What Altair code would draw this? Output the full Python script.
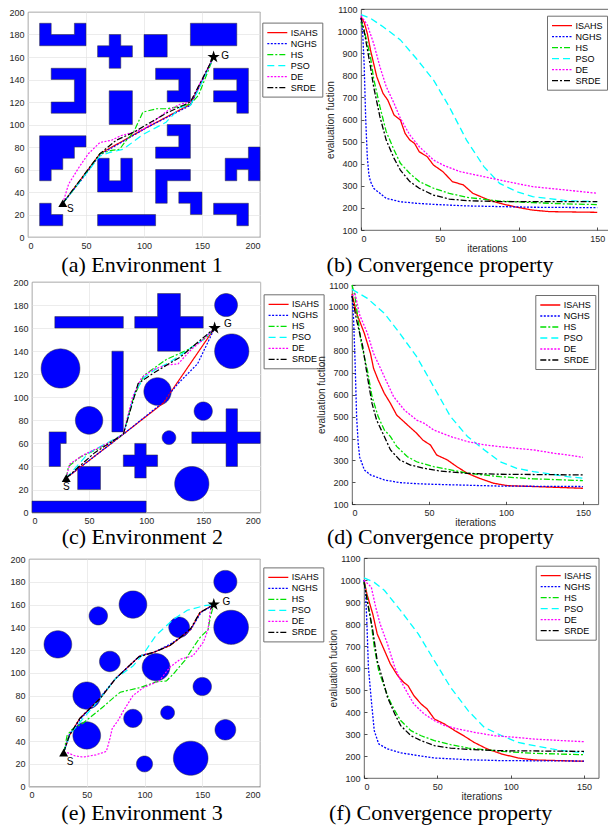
import altair as alt
import numpy as np
import pandas as pd

METHODS = ["ISAHS", "NGHS", "HS", "PSO", "DE", "SRDE"]
COLORS = ["#FF0000", "#0000FF", "#00E000", "#00FFFF", "#FF00FF", "#000000"]
DASHES = [[1, 0], [2, 1.5], [6, 2, 2, 2], [7, 4], [2, 1.5], [6, 2, 2, 2]]
STAR_SHAPE = ("M0,-1L0.2245,-0.309L0.951,-0.309L0.363,0.118L0.588,0.809L0,0.382"
              "L-0.588,0.809L-0.363,0.118L-0.951,-0.309L-0.2245,-0.309Z")

# ---------------- obstacles ----------------
ENV1_POLYGONS = [
    [(10, 170), (50, 170), (50, 190), (40, 190), (40, 180), (20, 180), (20, 190), (10, 190)],
    [(70, 150), (80, 150), (80, 160), (90, 160), (90, 170), (80, 170), (80, 180), (70, 180), (70, 170), (60, 170), (60, 160), (70, 160)],
    [(100, 160), (120, 160), (120, 180), (100, 180)],
    [(140, 170), (180, 170), (180, 190), (140, 190)],
    [(20, 150), (50, 150), (50, 110), (20, 110), (20, 120), (40, 120), (40, 140), (20, 140)],
    [(70, 100), (90, 100), (90, 130), (70, 130)],
    [(110, 150), (140, 150), (140, 120), (120, 120), (120, 130), (130, 130), (130, 140), (110, 140)],
    [(160, 150), (190, 150), (190, 110), (180, 110), (180, 120), (160, 120), (160, 130), (180, 130), (180, 140), (160, 140)],
    [(10, 90), (50, 90), (50, 80), (40, 80), (40, 70), (30, 70), (30, 60), (20, 60), (20, 50), (10, 50)],
    [(60, 70), (70, 70), (70, 50), (80, 50), (80, 70), (90, 70), (90, 40), (60, 40)],
    [(120, 100), (140, 100), (140, 70), (110, 70), (110, 80), (130, 80), (130, 90), (120, 90)],
    [(110, 60), (140, 60), (140, 50), (120, 50), (120, 30), (110, 30)],
    [(130, 40), (150, 40), (150, 20), (140, 20), (140, 30), (130, 30)],
    [(190, 80), (200, 80), (200, 50), (190, 50), (190, 60), (180, 60), (180, 50), (170, 50), (170, 70), (190, 70)],
    [(10, 30), (20, 30), (20, 20), (30, 20), (30, 10), (10, 10)],
    [(60, 10), (110, 10), (110, 20), (60, 20)],
    [(160, 30), (190, 30), (190, 10), (180, 10), (180, 20), (160, 20)],
]
ENV1_CIRCLES = []

ENV2_POLYGONS = [
    [(20, 160), (80, 160), (80, 170), (20, 170)],
    [(110, 140), (130, 140), (130, 160), (150, 160), (150, 170), (130, 170), (130, 190), (110, 190), (110, 170), (90, 170), (90, 160), (110, 160)],
    [(70, 70), (80, 70), (80, 140), (70, 140)],
    [(140, 60), (170, 60), (170, 40), (180, 40), (180, 60), (200, 60), (200, 70), (180, 70), (180, 90), (170, 90), (170, 70), (140, 70)],
    [(15, 40), (25, 40), (25, 60), (30, 60), (30, 70), (15, 70)],
    [(90, 30), (100, 30), (100, 40), (110, 40), (110, 50), (100, 50), (100, 60), (90, 60), (90, 50), (80, 50), (80, 40), (90, 40)],
    [(40, 20), (60, 20), (60, 40), (40, 40)],
    [(0, 0), (100, 0), (100, 10), (0, 10)],
]
ENV2_CIRCLES = [(170, 180, 10), (175, 140, 15), (25, 125, 17), (50, 80, 12),
                (110, 105, 12), (150, 88, 8), (120, 65, 6), (140, 25, 15)]

ENV3_POLYGONS = []
ENV3_CIRCLES = [(170, 180, 10), (90, 160, 12), (60, 150, 8), (130, 140, 9), (175, 140, 15),
                (25, 125, 12), (70, 110, 9), (110, 105, 12), (50, 80, 12), (150, 88, 8),
                (90, 60, 8), (120, 65, 6), (50, 45, 12), (170, 50, 9), (100, 20, 7), (140, 25, 15)]

START = (30, 30)
GOAL = (160, 160)
ENV1_LABELS = [("S", 36.5, 25), ("G", 170, 161)]
ENV2_LABELS = [("S", 30, 22.5), ("G", 171.5, 163.5)]
ENV3_LABELS = [("S", 35.5, 22), ("G", 171, 162)]

# ---------------- planned paths ----------------
ENV1_PATHS = {
    "ISAHS": [(30, 30), (46, 52), (62, 74), (100, 96), (140, 118), (160, 160)],
    "NGHS": [(30, 30), (47, 52), (62, 73), (102, 97), (140, 117), (160, 160)],
    "HS": [(30, 30), (40, 43), (50, 57), (62, 74), (72, 77), (79, 78), (84, 85), (91, 93), (99, 111),
           (111, 114), (120, 114), (140, 118), (147, 126), (160, 160)],
    "PSO": [(30, 30), (62, 72), (70, 75), (82, 78), (99, 91), (119, 102), (131, 115), (140, 117),
            (147, 131), (160, 160)],
    "DE": [(30, 30), (35, 47), (44, 62), (52, 74), (62, 84), (72, 86), (80, 90), (100, 96), (120, 112),
           (131, 118), (140, 120), (150, 140), (160, 160)],
    "SRDE": [(30, 30), (62, 74), (76, 86), (91, 93), (119, 110), (140, 120), (160, 160)],
}
ENV2_PATHS = {
    "ISAHS": [(30, 30), (80, 68), (115, 95), (160, 160)],
    "NGHS": [(30, 30), (80, 68), (114, 95), (128, 112), (145, 129), (160, 160)],
    "HS": [(30, 30), (32, 40), (42, 48), (57, 55), (70, 62), (80, 68), (89, 100), (98, 119), (108, 126),
           (118, 133), (136, 141), (153, 152), (160, 160)],
    "PSO": [(30, 30), (50, 52), (80, 68), (90, 104), (98, 117), (108, 124), (120, 130), (138, 142),
            (150, 150), (160, 160)],
    "DE": [(30, 30), (33, 42), (45, 50), (60, 57), (72, 63), (80, 68), (88, 100), (96, 117), (106, 124),
           (118, 128), (128, 129), (140, 142), (150, 150), (160, 160)],
    "SRDE": [(30, 30), (55, 52), (80, 68), (93, 112), (108, 122), (130, 135), (160, 160)],
}
ENV3_PATHS = {
    "ISAHS": [(30, 30), (35, 45), (44, 60), (62, 78), (75, 95), (96, 115), (108, 118), (122, 124),
              (131, 131), (140, 138), (148, 153), (160, 160)],
    "NGHS": [(30, 30), (35, 46), (45, 60), (62, 79), (75, 95), (96, 115), (108, 118), (122, 125),
             (131, 131), (140, 138), (149, 153), (160, 160)],
    "HS": [(30, 30), (33, 45), (37, 50), (47, 56), (64, 70), (73, 78), (79, 83), (96, 87), (110, 92),
           (119, 93), (125, 99), (135, 111), (142, 122), (148, 131), (155, 138), (157, 149), (160, 160)],
    "PSO": [(30, 30), (36, 47), (47, 60), (62, 78), (75, 95), (90, 106), (100, 118), (110, 133),
            (125, 147), (137, 155), (152, 159), (160, 160)],
    "DE": [(30, 30), (33, 30), (40, 27), (47, 26), (58, 28), (67, 31), (70, 42), (72, 51), (77, 58),
           (82, 67), (90, 80), (99, 87), (113, 93), (122, 105), (131, 112), (142, 115), (151, 127),
           (155, 138), (157, 155), (160, 160)],
    "SRDE": [(30, 30), (35, 45), (44, 60), (62, 78), (75, 95), (95, 114), (108, 118), (122, 124),
             (131, 131), (140, 139), (148, 153), (160, 160)],
}

# ---------------- convergence curves (iteration, value) ----------------
CONV1 = {
    "ISAHS": ([0, 2, 4, 6, 10, 14, 17, 21, 25, 28, 31, 34, 37, 42, 46, 52, 58, 65, 71, 80, 88, 99, 109, 120, 130, 150],
              [1065, 1040, 990, 915, 794, 718, 688, 620, 598, 537, 507, 492, 454, 432, 394, 364, 319, 304, 266, 239, 221, 203, 190, 183, 182, 180]),
    "NGHS": ([0, 1, 2, 3, 4, 5, 6, 8, 12, 16, 25, 35, 46, 67, 88, 109, 150],
             [1060, 1000, 850, 600, 430, 350, 320, 289, 266, 243, 228, 221, 216, 209, 206, 203, 201]),
    "HS": ([0, 2, 6, 8, 12, 16, 21, 25, 31, 37, 46, 56, 67, 88, 109, 130, 150],
           [1040, 1005, 884, 786, 658, 545, 462, 402, 356, 319, 289, 266, 248, 231, 224, 218, 215]),
    "PSO": ([0, 6, 14, 25, 35, 46, 56, 67, 78, 88, 99, 109, 130, 150],
            [1075, 1058, 1020, 960, 877, 779, 658, 507, 387, 311, 273, 251, 233, 228]),
    "DE": ([0, 4, 8, 12, 16, 21, 25, 31, 37, 46, 52, 63, 73, 88, 109, 130, 150],
           [1070, 1028, 945, 839, 749, 673, 605, 530, 477, 417, 394, 364, 349, 326, 296, 281, 266]),
    "SRDE": ([0, 2, 6, 8, 12, 16, 21, 25, 31, 37, 46, 56, 67, 88, 150],
             [1060, 1000, 839, 749, 613, 507, 424, 371, 319, 289, 258, 240, 233, 228, 228]),
}
CONV2 = {
    "ISAHS": ([0, 3, 8, 12, 14, 17, 21, 25, 29, 36, 42, 46, 51, 55, 62, 68, 75, 83, 92, 101, 118, 150],
              [1060, 971, 880, 788, 720, 667, 606, 560, 507, 462, 424, 393, 370, 325, 302, 272, 241, 218, 196, 185, 181, 173]),
    "NGHS": ([0, 1, 2, 3, 4, 5, 8, 12, 21, 31, 42, 53, 75, 96, 150],
             [1050, 950, 750, 500, 380, 315, 257, 234, 211, 199, 194, 191, 187, 183, 181]),
    "HS": ([0, 2, 4, 6, 10, 13, 17, 21, 25, 29, 36, 42, 53, 64, 75, 96, 118, 150],
           [1100, 1047, 940, 834, 712, 591, 500, 439, 409, 364, 317, 294, 272, 257, 242, 226, 216, 208]),
    "PSO": ([0, 10, 21, 31, 42, 53, 64, 75, 86, 96, 107, 118, 129, 140, 150],
            [1080, 1039, 971, 880, 773, 637, 500, 409, 348, 295, 264, 249, 238, 226, 219]),
    "DE": ([0, 2, 5, 10, 14, 21, 27, 34, 42, 47, 53, 64, 75, 86, 96, 107, 118, 131, 140, 150],
           [1050, 1060, 963, 880, 788, 682, 591, 530, 484, 469, 439, 409, 386, 371, 363, 355, 348, 333, 325, 314]),
    "SRDE": ([0, 3, 7, 10, 13, 16, 21, 25, 31, 38, 47, 57, 75, 96, 150],
             [1050, 940, 819, 682, 560, 484, 409, 348, 302, 279, 264, 252, 241, 237, 234]),
}
CONV3 = {
    "ISAHS": ([0, 2, 6, 9, 14, 18, 23, 27, 30, 34, 39, 43, 48, 55, 62, 68, 75, 84, 94, 105, 116, 150],
              [1000, 936, 845, 755, 679, 618, 565, 535, 520, 474, 436, 414, 368, 345, 315, 292, 262, 232, 209, 191, 182, 176]),
    "NGHS": ([0, 1, 2, 3, 5, 7, 10, 16, 25, 37, 48, 71, 94, 150],
             [1000, 952, 800, 603, 452, 315, 255, 232, 214, 202, 191, 183, 179, 177]),
    "HS": ([0, 2, 5, 7, 10, 14, 17, 21, 25, 32, 39, 48, 59, 71, 94, 116, 150],
           [990, 921, 800, 694, 588, 512, 459, 406, 361, 315, 292, 270, 252, 236, 221, 212, 206]),
    "PSO": ([0, 7, 14, 25, 37, 48, 59, 71, 82, 94, 105, 116, 128, 139, 150],
            [1010, 989, 952, 861, 755, 633, 512, 406, 330, 292, 262, 247, 232, 221, 215]),
    "DE": ([0, 5, 8, 11, 16, 21, 25, 30, 34, 41, 48, 55, 64, 75, 89, 103, 116, 135, 150],
           [1000, 967, 876, 800, 709, 603, 542, 482, 436, 391, 361, 338, 323, 308, 292, 285, 277, 270, 265]),
    "SRDE": ([0, 3, 6, 9, 13, 16, 21, 25, 32, 39, 48, 59, 71, 94, 150],
             [990, 876, 770, 633, 542, 467, 391, 338, 292, 270, 247, 236, 230, 224, 221]),
}

CAPTIONS = ["(a) Environment 1", "(b) Convergence property", "(c) Environment 2",
            "(d) Convergence property", "(e) Environment 3", "(f) Convergence property"]

SANS = "Liberation Sans"
SERIF = "Liberation Serif"
COLOR_SCALE = alt.Scale(domain=METHODS, range=COLORS)
DASH_SCALE = alt.Scale(domain=METHODS, range=DASHES)


def make_legend(lx, ly):
    return alt.Legend(orient="none", legendX=lx, legendY=ly, title=None,
                      symbolType="M-1,0H3", symbolSize=100, symbolStrokeWidth=1.3,
                      labelFont=SANS, labelFontSize=9, labelColor="#000000",
                      labelOffset=12.5, padding=4, rowPadding=0,
                      strokeColor="#6e6e6e", fillColor="#ffffff", labelLimit=120)


def obstacle_frame(polys, circles):
    rows = []
    pid = 0
    for verts in polys:
        closed = list(verts) + [verts[0]]
        for k, (x, y) in enumerate(closed):
            rows.append({"pid": pid, "k": k, "x": x, "y": y})
        pid += 1
    for cx, cy, r in circles:
        ang = np.linspace(0, 2 * np.pi, 73)
        for k, a in enumerate(ang):
            rows.append({"pid": pid, "k": k, "x": cx + r * np.cos(a), "y": cy + r * np.sin(a)})
        pid += 1
    return pd.DataFrame(rows)


def path_frame(paths):
    rows = []
    for m in METHODS:
        for k, (x, y) in enumerate(paths[m]):
            rows.append({"method": m, "k": k, "x": x, "y": y})
    return pd.DataFrame(rows)


def conv_frame(conv):
    rows = []
    for m in METHODS:
        its, vals = conv[m]
        for it, v in zip(its, vals):
            rows.append({"method": m, "it": it, "val": v})
    return pd.DataFrame(rows)


def caption_layer(text, cx, cy):
    return alt.Chart(pd.DataFrame({"c": [text]})).mark_text(
        font=SERIF, fontSize=22, baseline="alphabetic", align="center", color="#000000"
    ).encode(x=alt.value(cx), y=alt.value(cy), text="c:N")


def env_panel(polys, circles, paths, labels, w, h, caption, cx, cy, lx, ly):
    X = alt.X("x:Q", scale=alt.Scale(domain=[0, 200], nice=False, zero=False),
              axis=alt.Axis(values=[0, 50, 100, 150, 200], title=None, grid=True, format="d"))
    Y = alt.Y("y:Q", scale=alt.Scale(domain=[0, 200], nice=False, zero=False),
              axis=alt.Axis(values=list(range(0, 201, 20)), title=None, grid=True, format="d"))
    obs = alt.Chart(obstacle_frame(polys, circles)).mark_line(
        fill="#0000FF", stroke="#303030", strokeWidth=0.5
    ).encode(x=X, y=Y, detail="pid:N", order="k:Q")
    lg = make_legend(lx, ly)
    pth = alt.Chart(path_frame(paths)).mark_line(strokeWidth=1.2).encode(
        x=X, y=Y,
        color=alt.Color("method:N", scale=COLOR_SCALE, legend=lg),
        strokeDash=alt.StrokeDash("method:N", scale=DASH_SCALE, legend=lg),
        order="k:Q")
    s_mark = alt.Chart(pd.DataFrame({"x": [START[0]], "y": [START[1]]})).mark_point(
        shape="triangle-up", filled=True, color="#000000", size=80, opacity=1).encode(x=X, y=Y)
    g_mark = alt.Chart(pd.DataFrame({"x": [GOAL[0]], "y": [GOAL[1]]})).mark_point(
        shape=STAR_SHAPE, filled=True, color="#000000", size=170, opacity=1).encode(x=X, y=Y)
    lab = alt.Chart(pd.DataFrame(labels, columns=["t", "x", "y"])).mark_text(
        font=SANS, fontSize=10, color="#000000").encode(x=X, y=Y, text="t:N")
    cap = caption_layer(caption, cx, cy)
    return alt.layer(obs, pth, s_mark, g_mark, lab, cap).properties(width=w, height=h)


def conv_panel(conv, w, h, xmax, caption, cx, cy, lx, ly):
    # ticks drawn inward (MATLAB style): axis pulled 3px inside, ticks 3px long
    X = alt.X("it:Q", scale=alt.Scale(domain=[0, xmax], nice=False, zero=False),
              axis=alt.Axis(values=[0, 50, 100, 150], title="iterations", grid=False, titlePadding=0.5,
                            ticks=True, tickSize=3, offset=-3, tickColor="#262626", tickWidth=0.8))
    Y = alt.Y("val:Q", scale=alt.Scale(domain=[100, 1100], nice=False, zero=False),
              axis=alt.Axis(values=list(range(100, 1101, 100)), title="evaluation fuction",
                            grid=False, titlePadding=1, format="d",
                            ticks=True, tickSize=3, offset=-3, tickColor="#262626", tickWidth=0.8))
    lg = make_legend(lx, ly)
    lines = alt.Chart(conv_frame(conv)).mark_line(strokeWidth=1.3).encode(
        x=X, y=Y,
        color=alt.Color("method:N", scale=COLOR_SCALE, legend=lg),
        strokeDash=alt.StrokeDash("method:N", scale=DASH_SCALE, legend=lg),
        order="it:Q")
    cap = caption_layer(caption, cx, cy)
    return alt.layer(lines, cap).properties(width=w, height=h)


def spacer(w, h):
    return alt.Chart(pd.DataFrame({"s": [0]})).mark_point(opacity=0).encode(
        x=alt.X("s:Q", axis=None), y=alt.Y("s:Q", axis=None)
    ).properties(width=w, height=h, view=alt.ViewBackground(strokeOpacity=0))


def indep(c):
    return c.resolve_scale(color="independent", strokeDash="independent")


def placed(panel, x, y):
    # 2x2 grid: the spacer column/row push the panel to (x, y) of the page
    return indep(alt.concat(spacer(1, 1), spacer(1, y), spacer(x, 1), panel,
                            columns=2, spacing=0, bounds="flush"))


L1 = env_panel(ENV1_POLYGONS, ENV1_CIRCLES, ENV1_PATHS, ENV1_LABELS, 232, 225,
               CAPTIONS[0], 114, 260.3, 234.3, 10.6)
L2 = env_panel(ENV2_POLYGONS, ENV2_CIRCLES, ENV2_PATHS, ENV2_LABELS, 228.3, 230.6,
               CAPTIONS[2], 110.3, 262.3, 231.6, 12.3)
L3 = env_panel(ENV3_POLYGONS, ENV3_CIRCLES, ENV3_PATHS, ENV3_LABELS, 231, 227.7,
               CAPTIONS[4], 113, 260.7, 234.3, 8.4)
R1 = conv_panel(CONV1, 252, 221, 160, CAPTIONS[1], 79, 263, 186, 6.7)
R2 = conv_panel(CONV2, 246.3, 219.3, 160, CAPTIONS[3], 88.3, 259, 183.3, 10)
R3 = conv_panel(CONV3, 234.7, 220, 160, CAPTIONS[5], 76.7, 261.7, 171.7, 7.7)

groups = [
    placed(L1, 28, 11.7), placed(R1, 361, 9),
    placed(L2, 31.7, 281.7), placed(R2, 351.7, 285),
    placed(L3, 29, 558.3), placed(R3, 363.3, 557.3),
]

chart = indep(alt.hconcat(*groups, spacing=0, bounds="flush")).properties(
    autosize=alt.AutoSizeParams(type="none"),
    padding={"left": 0, "top": 0, "right": 608, "bottom": 827},
    background="#ffffff",
).configure_view(
    stroke="#404040", strokeWidth=0.8
).configure_axis(
    labelFont=SANS, labelFontSize=9, labelColor="#262626", labelPadding=4,
    titleFont=SANS, titleFontSize=10, titleFontWeight="normal", titleColor="#262626",
    domain=False, ticks=False, gridColor="#e4e4e4", gridWidth=0.7
)

chart.save("out.html", embed_options={"renderer": "svg", "actions": False})
